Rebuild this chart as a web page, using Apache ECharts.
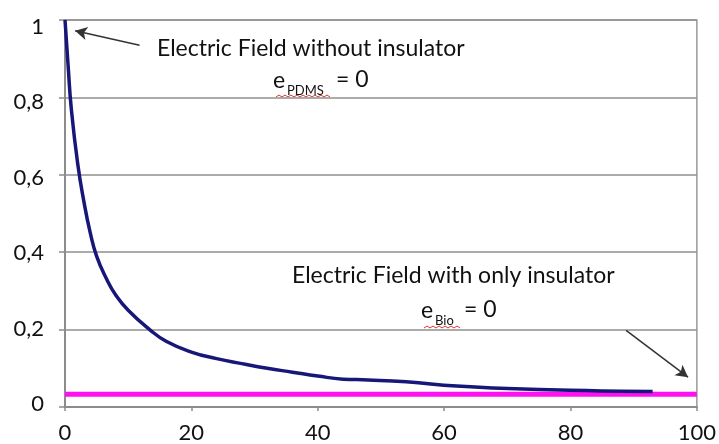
<!DOCTYPE html>
<html>
<head>
<meta charset="utf-8">
<script src="https://cdn.jsdelivr.net/npm/echarts@6/dist/echarts.min.js"></script>
<style>html,body{margin:0;padding:0;background:#fff}#c{width:719px;height:444px}</style>
</head>
<body>
<div id="c"></div>
<script>
// Distance values (x) and normalized electric field without insulator
const xValues = [0, 0.5, 1, 2, 3, 4, 5, 6.6, 8, 10, 13.4, 16, 20, 24, 28, 32, 36, 40, 44, 48, 54, 62, 70, 80, 88, 93];
const fieldNoInsulator = [1.0, 0.88, 0.77, 0.63, 0.53, 0.45, 0.39, 0.33, 0.29, 0.25, 0.20, 0.17, 0.142, 0.125, 0.112, 0.10, 0.09, 0.08, 0.072, 0.07, 0.065, 0.054, 0.048, 0.043, 0.041, 0.04];
// Electric field with only insulator (constant level)
const insulatorX = [0, 100];
const insulatorLevel = [0.033, 0.033];
const xTicks = [0, 20, 40, 60, 80, 100];
const yTicks = [0, 0.2, 0.4, 0.6, 0.8, 1];
// Annotation arrows in data coordinates [from, to]
const arrow1 = [[11.8, 0.935], [1.6, 0.972]];
const arrow2 = [[88.8, 0.198], [98.6, 0.077]];

const FONT = 'Lato';
const fmt = v => String(v).replace('.', ',');

const chart = echarts.init(document.getElementById('c'));
chart.setOption({
  animation: false,
  grid: [
    { left: 65, right: 19, top: 20, bottom: 37, show: true, borderColor: '#9a9a9a', borderWidth: 1.5 },
    { left: 65, right: 19, top: 27, bottom: 40 }
  ],
  xAxis: [{
    type: 'value', gridIndex: 0, min: xTicks[0], max: xTicks[xTicks.length - 1], interval: 20,
    axisLine: { show: true, lineStyle: { color: '#8c8c8c', width: 2 } },
    axisTick: { show: true, length: 4, lineStyle: { color: '#8c8c8c', width: 1.5 } },
    splitLine: { show: false },
    axisLabel: { margin: 15, fontFamily: FONT, fontSize: 22, color: '#111', formatter: fmt }
  }, {
    type: 'value', gridIndex: 1, min: 0, max: 100, show: false
  }],
  yAxis: [{
    type: 'value', gridIndex: 0, min: yTicks[0], max: yTicks[yTicks.length - 1], interval: 0.2,
    axisLine: { show: true, lineStyle: { color: '#8c8c8c', width: 2 } },
    axisTick: { show: true, length: 6, lineStyle: { color: '#8c8c8c', width: 1.5 } },
    splitLine: { show: true, lineStyle: { color: '#8f8f8f', width: 1.5 } },
    axisLabel: { show: false }
  }, {
    type: 'value', gridIndex: 1, min: yTicks[0], max: yTicks[yTicks.length - 1], interval: 0.2,
    axisLine: { show: false }, axisTick: { show: false }, splitLine: { show: false },
    axisLabel: { margin: 21, fontFamily: FONT, fontSize: 22, color: '#111', formatter: fmt }
  }],
  series: [
    {
      type: 'line', name: 'only insulator', showSymbol: false, xAxisIndex: 0, yAxisIndex: 0,
      data: insulatorX.map((x, i) => [x, insulatorLevel[i]]),
      lineStyle: { color: '#ff10f0', width: 5 }, z: 2,
      markLine: {
        silent: true, symbol: ['none', 'arrow'], symbolSize: [10, 12],
        label: { show: false },
        lineStyle: { color: '#333', width: 1.5, type: 'solid' },
        data: [
          [{ coord: arrow1[0] }, { coord: arrow1[1] }],
          [{ coord: arrow2[0] }, { coord: arrow2[1] }]
        ]
      }
    },
    {
      type: 'line', name: 'without insulator', showSymbol: false, smooth: true, xAxisIndex: 0, yAxisIndex: 0,
      data: xValues.map((x, i) => [x, fieldNoInsulator[i]]),
      lineStyle: { color: '#17177a', width: 3.5 }, z: 3
    }
  ],
  graphic: [
    { type: 'text', left: 157, top: 37, style: { text: 'Electric Field without insulator', fontFamily: FONT, fontSize: 23, fill: '#111' } },
    { type: 'text', left: 273, top: 69, style: { text: 'e', fontFamily: FONT, fontSize: 23, fill: '#111' } },
    { type: 'text', left: 287, top: 84, style: { text: 'PDMS', fontFamily: FONT, fontSize: 13, fill: '#111' } },
    { type: 'text', left: 336, top: 68, style: { text: '= 0', fontFamily: FONT, fontSize: 23, fill: '#111' } },
    { type: 'polyline', shape: { points: [[276,97],[279,95],[282,97],[285,95],[288,97],[291,95],[294,97],[297,95],[300,97],[303,95],[306,97],[309,95],[312,97],[315,95],[318,97],[321,95],[324,97],[327,95],[330,97]] }, style: { stroke: '#d33', lineWidth: 1, fill: null } },
    { type: 'text', left: 292, top: 264, style: { text: 'Electric Field with only insulator', fontFamily: FONT, fontSize: 23, fill: '#111' } },
    { type: 'text', left: 421, top: 299, style: { text: 'e', fontFamily: FONT, fontSize: 23, fill: '#111' } },
    { type: 'text', left: 435, top: 314, style: { text: 'Bio', fontFamily: FONT, fontSize: 13, fill: '#111' } },
    { type: 'text', left: 464, top: 298, style: { text: '= 0', fontFamily: FONT, fontSize: 23, fill: '#111' } },
    { type: 'polyline', shape: { points: [[424,328],[427,326],[430,328],[433,326],[436,328],[439,326],[442,328],[445,326],[448,328],[451,326],[454,328],[457,326],[460,328]] }, style: { stroke: '#d33', lineWidth: 1, fill: null } }
  ]
});
</script>
</body>
</html>
